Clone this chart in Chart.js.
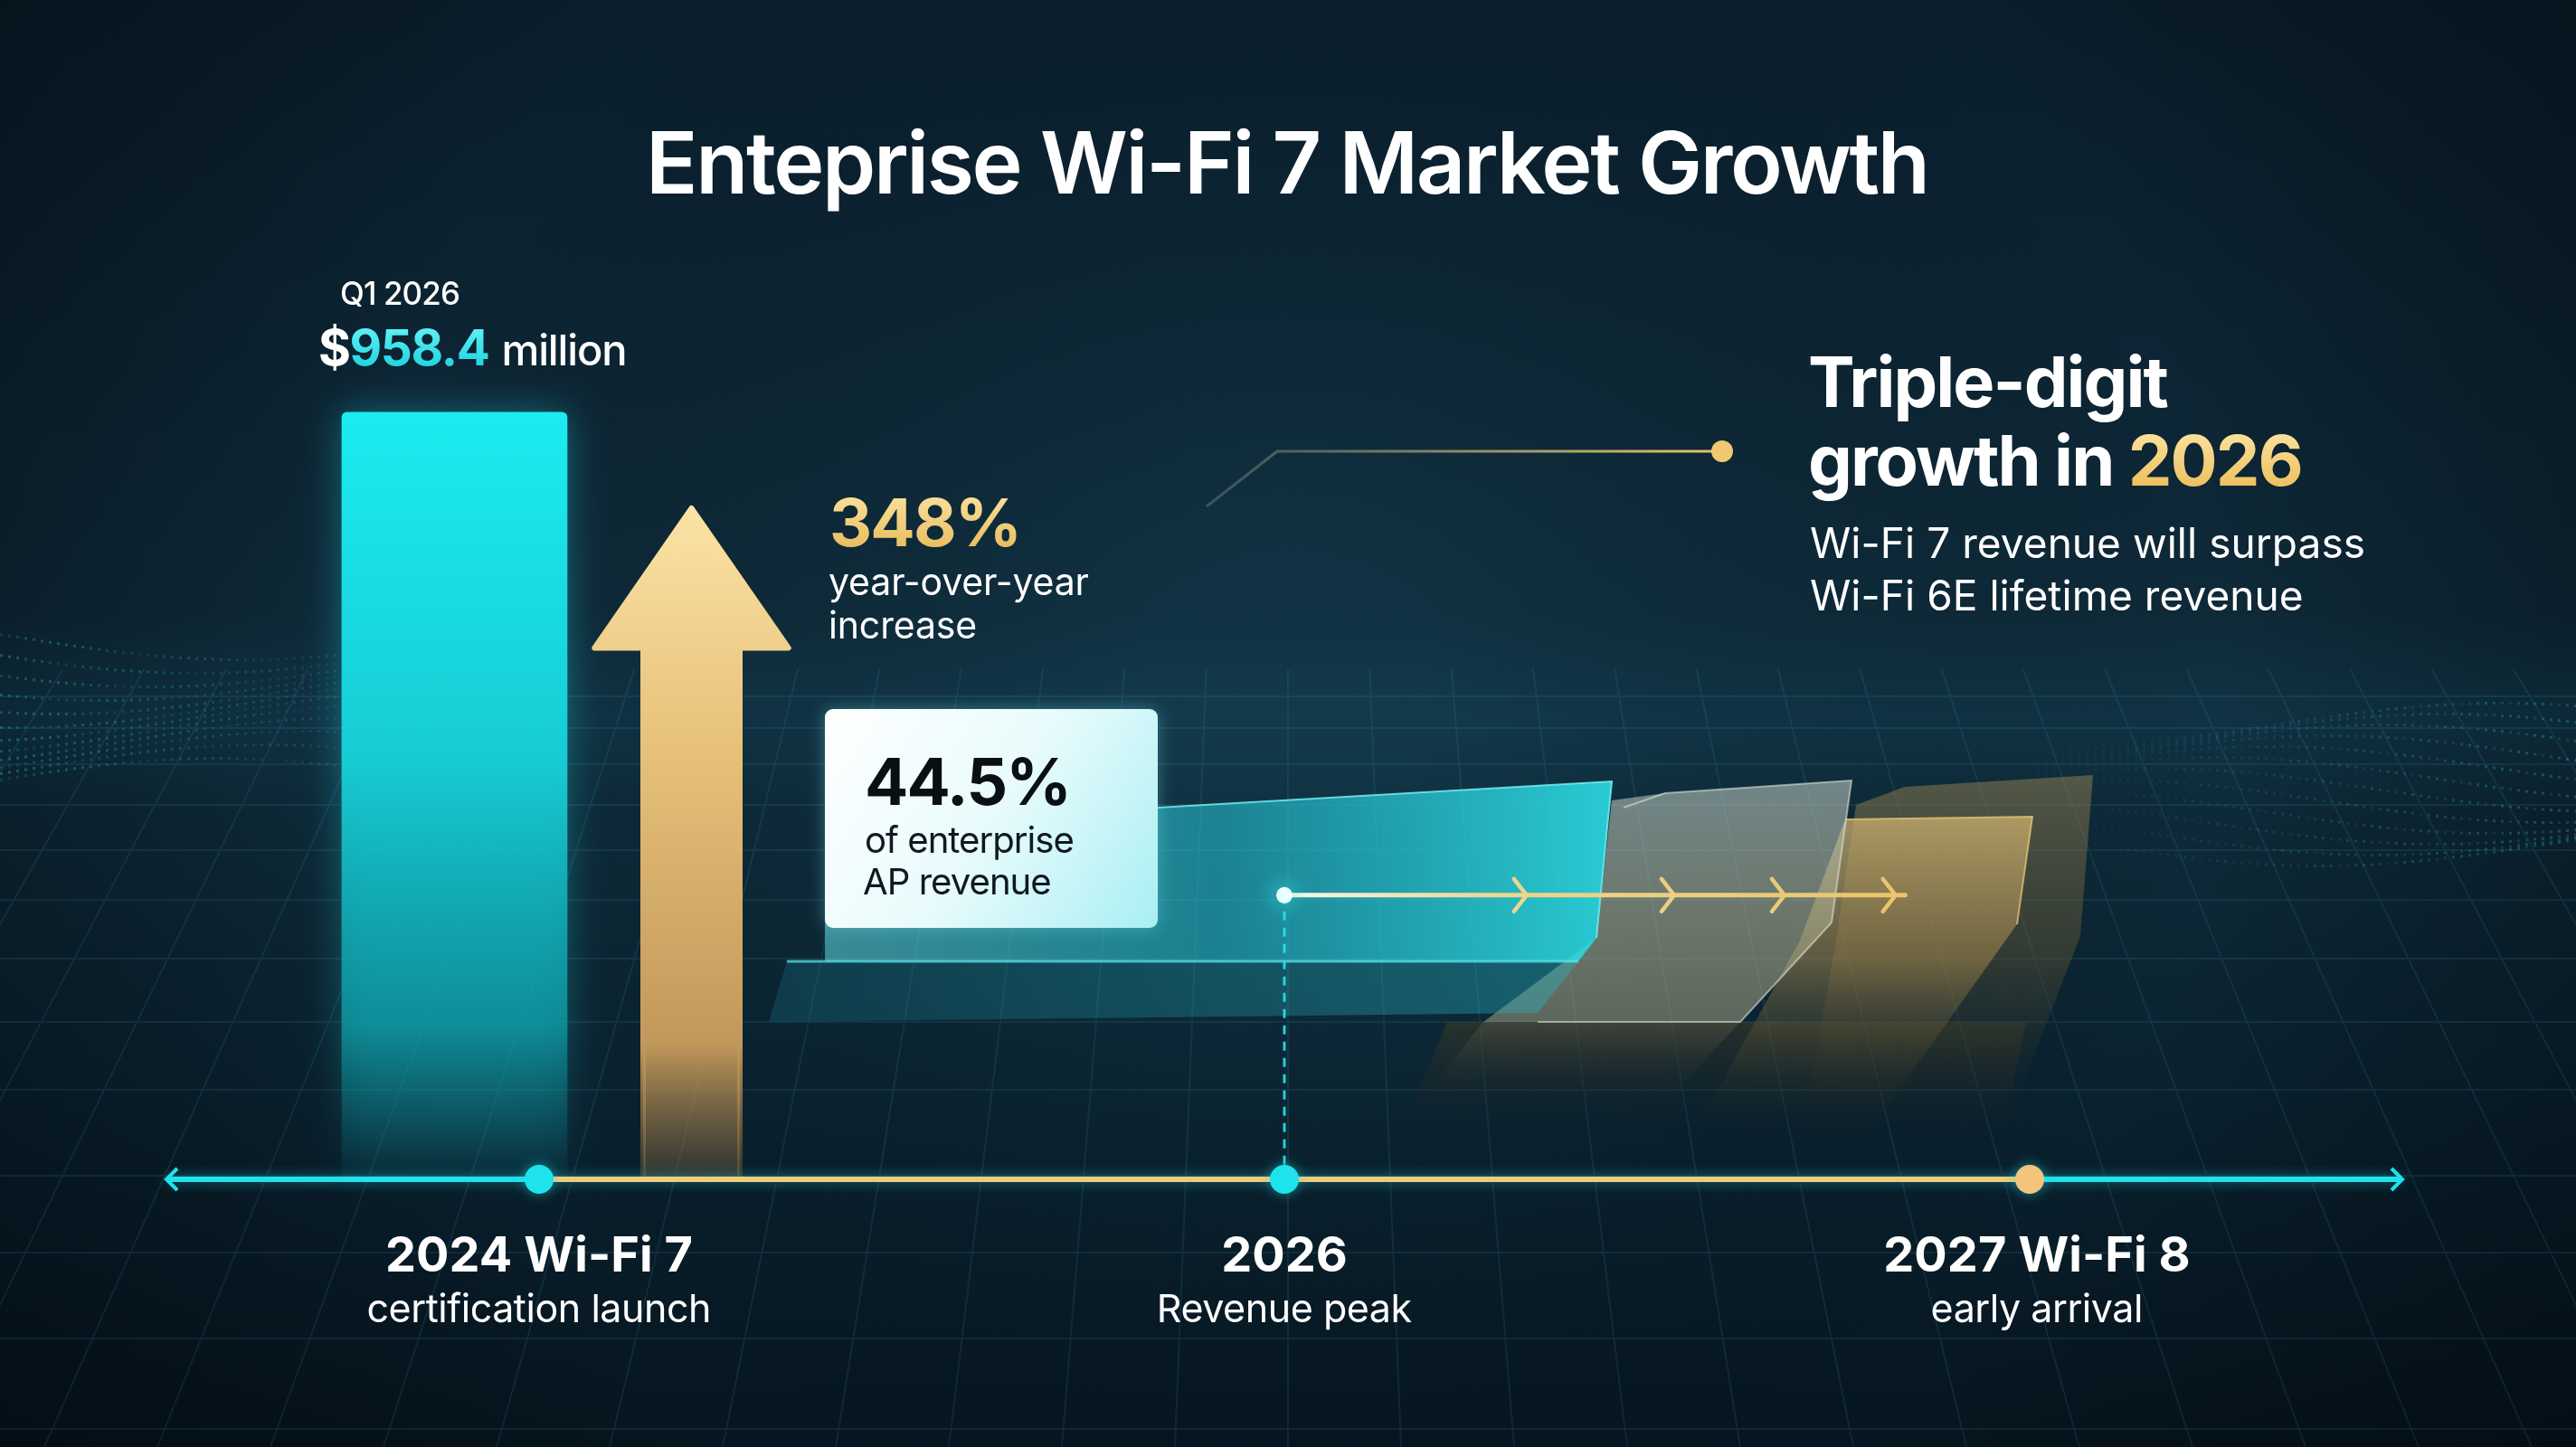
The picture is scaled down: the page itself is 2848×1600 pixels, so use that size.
<!DOCTYPE html>
<html><head><meta charset="utf-8">
<script src="https://cdn.jsdelivr.net/npm/chart.js@4.4.1/dist/chart.umd.min.js"></script>
<style>
html,body{margin:0;padding:0;background:#081a26;overflow:hidden;}
canvas{display:block;}
</style></head><body>
<canvas id="c" width="2848" height="1600"></canvas>
<script>
// ---------------- data ----------------
const chartTitle = 'Enteprise Wi-Fi 7 Market Growth';
const revenuePeriod = 'Q1 2026';
const revenueMillions = [958.4];
const yoyGrowthPct = [348];
const apSharePct = [44.5];
const milestoneIndex = [0, 1, 2];
const milestoneLabels = ['2024 Wi-Fi 7', '2026', '2027 Wi-Fi 8'];
const milestoneNotes = ['certification launch', 'Revenue peak', 'early arrival'];
const calloutHead = ['Triple-digit', 'growth in ', '2026'];
const calloutBody = ['Wi-Fi 7 revenue will surpass', 'Wi-Fi 6E lifetime revenue'];

// ---------------- layout / style ----------------
const W = 2848, H = 1600;
const FONT = "Inter, 'Noto Sans', 'DejaVu Sans', sans-serif";
const CYAN = '#1fe3ec', GOLD = '#efcb7c';
const LAYOUT = {
  revenueBarX: -0.1135, revenueBarWidth: 249,
  growthArrowX: 0.2045, growthArrowWidth: 107,
  peakLevel: 355,
  peakChevrons: [1.325, 1.523, 1.671, 1.820], peakLineEnd: 1.833
};

function natW(ctx, s, weight, size) {
  ctx.letterSpacing = '0px';
  ctx.font = `${weight} ${size}px ${FONT}`;
  return ctx.measureText(s).width;
}
function fitStyle(ctx, s, weight, maxSize, target) {
  const n = Math.max(1, s.length - 1);
  const w100 = natW(ctx, s, weight, 100) / 100;
  const size = Math.min(maxSize, target / (w100 - 0.025 * n));
  const ls = (target - w100 * size) / n;
  return {size, ls: Math.min(ls, 0.1 * size)};
}
function txt(ctx, s, x, y, weight, size, color, align, ls) {
  ctx.font = `${weight} ${size}px ${FONT}`;
  ctx.letterSpacing = (ls || 0) + 'px';
  ctx.fillStyle = color; ctx.textAlign = align || 'left'; ctx.textBaseline = 'alphabetic';
  const w = ctx.measureText(s).width;
  const dx = align === 'center' ? (ls || 0) / 2 : 0;
  ctx.fillText(s, x + dx, y);
  ctx.letterSpacing = '0px';
  return w;
}
function fitTxt(ctx, s, x, y, weight, maxSize, target, color, align) {
  const st = fitStyle(ctx, s, weight, maxSize, target);
  txt(ctx, s, x, y, weight, st.size, color, align, st.ls);
  return st;
}
function poly(ctx, pts) {
  ctx.beginPath(); ctx.moveTo(pts[0][0], pts[0][1]);
  for (let i = 1; i < pts.length; i++) ctx.lineTo(pts[i][0], pts[i][1]);
  ctx.closePath();
}

const deco = {
  id: 'deco',
  beforeDraw(chart) {
    const ctx = chart.ctx;
    ctx.save();
    const g = ctx.createLinearGradient(0, 0, 0, H);
    g.addColorStop(0, '#0a1e2c'); g.addColorStop(0.3, '#0d2635'); g.addColorStop(0.5, '#0f2c3b');
    g.addColorStop(0.75, '#0a2230'); g.addColorStop(1, '#06151f');
    ctx.fillStyle = g; ctx.fillRect(0, 0, W, H);
    const r = ctx.createRadialGradient(W / 2, 760, 150, W / 2, 760, 1750);
    r.addColorStop(0, 'rgba(25,80,100,0.22)'); r.addColorStop(0.55, 'rgba(0,0,0,0)'); r.addColorStop(1, 'rgba(0,6,12,0.5)');
    ctx.fillStyle = r; ctx.fillRect(0, 0, W, H);
    const hg = ctx.createLinearGradient(0, 680, 0, 900);
    hg.addColorStop(0, 'rgba(30,110,140,0)'); hg.addColorStop(0.5, 'rgba(30,110,140,0.10)'); hg.addColorStop(1, 'rgba(30,110,140,0)');
    ctx.fillStyle = hg; ctx.fillRect(0, 680, W, 220);
    const hz = 740, vpX = W / 2, vpY = -1500;
    ctx.beginPath(); ctx.rect(0, hz, W, H - hz); ctx.clip();
    ctx.strokeStyle = 'rgba(70,175,205,0.12)'; ctx.lineWidth = 2;
    ctx.beginPath();
    for (let i = -30; i <= 30; i++) {
      const bx = vpX + i * 125;
      const t = (hz - vpY) / (H - vpY);
      ctx.moveTo(vpX + (bx - vpX) * t, hz); ctx.lineTo(bx, H);
    }
    [770, 805, 845, 890, 940, 995, 1060, 1130, 1205, 1300, 1385, 1480, 1580].forEach(y => { ctx.moveTo(0, y); ctx.lineTo(W, y); });
    ctx.stroke();
    ctx.restore();
    ctx.save();
    for (let row = 0; row < 12; row++) {
      for (let x = 0; x < 620; x += 9) {
        const y = 700 + row * 15 + 28 * Math.sin(x / 170 + row * 0.3);
        const a = 0.34 * (1 - x / 640) * (0.45 + 0.55 * Math.abs(Math.sin(x * 0.37 + row * 1.7)));
        ctx.fillStyle = `rgba(50,195,215,${a.toFixed(3)})`; ctx.fillRect(x, y, 3, 3);
      }
      for (let x = 2180; x < W; x += 9) {
        const y = 800 + row * 12 + 24 * Math.sin(x / 160 + row * 0.4);
        const a = 0.32 * ((x - 2180) / 670) * (0.45 + 0.55 * Math.abs(Math.sin(x * 0.41 + row * 1.3)));
        ctx.fillStyle = `rgba(50,195,215,${a.toFixed(3)})`; ctx.fillRect(x, y, 3, 3);
      }
    }
    ctx.restore();
  },
  beforeDatasetsDraw(chart) {
    const ctx = chart.ctx, xs = chart.scales.x, ys = chart.scales.y;
    ctx.save();
    const vg = (y0, y1, stops) => { const g = ctx.createLinearGradient(0, y0, 0, y1); stops.forEach(s => g.addColorStop(s[0], s[1])); return g; };
    // shadow floor under the sheets
    poly(ctx, [[1600, 1130], [2240, 1130], [2212, 1265], [1545, 1265]]);
    ctx.fillStyle = vg(1130, 1265, [[0, 'rgba(70,62,38,0.5)'], [1, 'rgba(10,25,32,0)']]); ctx.fill();
    // back gold sheet
    poly(ctx, [[2052, 890], [2106, 870], [2314, 857], [2300, 1035], [2212, 1262], [1990, 1262], [2030, 1040]]);
    ctx.fillStyle = vg(857, 1262, [[0, 'rgba(140,124,80,0.55)'], [0.5, 'rgba(95,85,52,0.45)'], [1, 'rgba(12,28,36,0)']]); ctx.fill();
    // front gold sheet
    poly(ctx, [[2040, 906], [2247, 903], [2230, 1022], [2062, 1258], [1870, 1258], [1990, 1040]]);
    ctx.fillStyle = vg(903, 1258, [[0, 'rgba(205,178,112,0.75)'], [0.45, 'rgba(160,132,76,0.55)'], [1, 'rgba(20,30,30,0)']]); ctx.fill();
    ctx.strokeStyle = 'rgba(240,205,120,0.7)'; ctx.lineWidth = 2;
    ctx.beginPath(); ctx.moveTo(2040, 906); ctx.lineTo(2247, 903); ctx.lineTo(2230, 1022); ctx.stroke();
    // gray sheet
    poly(ctx, [[1782, 885], [1841, 877], [2047, 863], [2025, 1020], [1924, 1130], [1640, 1130], [1765, 1037]]);
    ctx.fillStyle = vg(863, 1130, [[0, 'rgba(175,190,185,0.62)'], [0.6, 'rgba(170,170,140,0.6)'], [1, 'rgba(160,158,128,0.55)']]); ctx.fill();
    poly(ctx, [[1640, 1130], [1924, 1130], [1830, 1230], [1560, 1230]]);
    ctx.fillStyle = vg(1130, 1230, [[0, 'rgba(90,90,70,0.45)'], [1, 'rgba(15,28,34,0)']]); ctx.fill();
    ctx.strokeStyle = 'rgba(220,225,215,0.6)';
    ctx.beginPath(); ctx.moveTo(1795, 893); ctx.lineTo(1841, 877); ctx.lineTo(2047, 863); ctx.lineTo(2025, 1020); ctx.lineTo(1924, 1130); ctx.lineTo(1700, 1130); ctx.stroke();
    // cyan sheet (front)
    poly(ctx, [[912, 900], [1280, 893], [1782, 864], [1765, 1037], [1745, 1063], [912, 1063]]);
    let hgc = ctx.createLinearGradient(912, 0, 1782, 0);
    hgc.addColorStop(0, 'rgba(90,205,215,0.6)'); hgc.addColorStop(0.5, 'rgba(35,185,200,0.6)'); hgc.addColorStop(1, 'rgba(45,220,228,0.9)');
    ctx.fillStyle = hgc; ctx.fill();
    poly(ctx, [[870, 1063], [1745, 1063], [1700, 1120], [850, 1130]]);
    hgc = ctx.createLinearGradient(850, 0, 1745, 0);
    hgc.addColorStop(0, 'rgba(25,130,150,0.25)'); hgc.addColorStop(1, 'rgba(40,180,195,0.4)');
    ctx.fillStyle = hgc; ctx.fill();
    ctx.strokeStyle = 'rgba(90,235,240,0.7)'; ctx.lineWidth = 3;
    ctx.beginPath(); ctx.moveTo(870, 1063); ctx.lineTo(1745, 1063); ctx.stroke();
    ctx.strokeStyle = 'rgba(120,245,250,0.8)'; ctx.lineWidth = 2;
    ctx.beginPath(); ctx.moveTo(1280, 893); ctx.lineTo(1782, 864); ctx.lineTo(1765, 1037); ctx.stroke();

    // 2026 revenue-peak flow
    const px = xs.getPixelForValue(milestoneIndex[1]);
    const py = ys.getPixelForValue(LAYOUT.peakLevel);
    const base = ys.getPixelForValue(0);
    ctx.setLineDash([10, 8]); ctx.strokeStyle = 'rgba(40,225,235,0.9)'; ctx.lineWidth = 3;
    ctx.beginPath(); ctx.moveTo(px, py); ctx.lineTo(px, base); ctx.stroke();
    ctx.setLineDash([]);
    const endX = xs.getPixelForValue(LAYOUT.peakLineEnd);
    const lg = ctx.createLinearGradient(px, 0, endX, 0);
    lg.addColorStop(0, '#f4f6ec'); lg.addColorStop(0.35, '#efd58e'); lg.addColorStop(1, '#e9c46c');
    ctx.strokeStyle = lg; ctx.lineWidth = 5; ctx.lineCap = 'round';
    ctx.beginPath(); ctx.moveTo(px, py); ctx.lineTo(endX, py); ctx.stroke();
    ctx.lineWidth = 4.5; ctx.lineJoin = 'round';
    LAYOUT.peakChevrons.forEach(v => {
      const cx = xs.getPixelForValue(v);
      ctx.beginPath(); ctx.moveTo(cx - 14, py - 18); ctx.lineTo(cx, py); ctx.lineTo(cx - 14, py + 18); ctx.stroke();
    });
    ctx.shadowColor = 'rgba(60,240,250,0.95)'; ctx.shadowBlur = 22;
    ctx.fillStyle = '#eaffff'; ctx.beginPath(); ctx.arc(px, py, 9, 0, Math.PI * 2); ctx.fill();
    ctx.shadowBlur = 0;

    // leader line to the callout
    const ld = ctx.createLinearGradient(1334, 0, 1904, 0);
    ld.addColorStop(0, 'rgba(140,150,140,0.35)'); ld.addColorStop(0.5, 'rgba(200,180,120,0.7)'); ld.addColorStop(1, '#e9c46c');
    ctx.strokeStyle = ld; ctx.lineWidth = 3; ctx.lineCap = 'butt';
    ctx.beginPath(); ctx.moveTo(1334, 560); ctx.lineTo(1412, 499); ctx.lineTo(1904, 499); ctx.stroke();
    ctx.fillStyle = '#f0c96e'; ctx.beginPath(); ctx.arc(1904, 499, 12, 0, Math.PI * 2); ctx.fill();
    ctx.restore();
  },
  beforeDatasetDraw(chart, args) {
    const ctx = chart.ctx;
    if (args.index === 0) {
      ctx.save(); ctx.shadowColor = 'rgba(30,230,240,0.35)'; ctx.shadowBlur = 40;
    }
    if (args.index === 1) {
      const el = args.meta.data[0];
      const x = el.x, tip = el.y, base = el.base, w = el.width;
      const hw = w * 1.03, hh = w * 1.5;
      const g = ctx.createLinearGradient(0, tip, 0, base);
      g.addColorStop(0, '#fbe3a6'); g.addColorStop(0.35, '#e8c27a'); g.addColorStop(0.8, '#c2985a'); g.addColorStop(1, 'rgba(150,115,65,0.25)');
      ctx.save();
      ctx.fillStyle = g; ctx.strokeStyle = g; ctx.lineWidth = 6; ctx.lineJoin = 'round';
      ctx.beginPath();
      ctx.moveTo(x, tip + 3); ctx.lineTo(x + hw - 3, tip + hh - 3); ctx.lineTo(x + w / 2, tip + hh - 3);
      ctx.lineTo(x + w / 2, base); ctx.lineTo(x - w / 2, base); ctx.lineTo(x - w / 2, tip + hh - 3);
      ctx.lineTo(x - hw + 3, tip + hh - 3); ctx.closePath();
      ctx.fill(); ctx.stroke();
      ctx.restore();
      return false;
    }
    if (args.index === 2) {
      ctx.save(); ctx.shadowColor = 'rgba(40,230,240,0.5)'; ctx.shadowBlur = 14;
    }
  },
  afterDatasetDraw(chart, args) {
    const ctx = chart.ctx;
    if (args.index === 0) ctx.restore();
    if (args.index === 2) {
      ctx.restore();
      const pts = args.meta.data;
      const a = pts[0], b = pts[pts.length - 1];
      ctx.save(); ctx.strokeStyle = CYAN; ctx.lineWidth = 4; ctx.lineJoin = 'miter';
      ctx.beginPath(); ctx.moveTo(a.x + 12, a.y - 12); ctx.lineTo(a.x, a.y); ctx.lineTo(a.x + 12, a.y + 12); ctx.stroke();
      ctx.beginPath(); ctx.moveTo(b.x - 12, b.y - 12); ctx.lineTo(b.x, b.y); ctx.lineTo(b.x - 12, b.y + 12); ctx.stroke();
      ctx.restore();
    }
  },
  afterDraw(chart) {
    const ctx = chart.ctx, xs = chart.scales.x, ys = chart.scales.y;
    ctx.save();
    fitTxt(ctx, chartTitle, W / 2, 214, 600, 95, 1420, '#ffffff', 'center');

    const bar = chart.getDatasetMeta(0).data[0];
    const left = bar.x - bar.width / 2;
    fitTxt(ctx, revenuePeriod, left - 2, bar.y - 119, 500, 35, 133, '#ffffff');
    const num = revenueMillions[0].toFixed(1);
    const by0 = bar.y - 52;
    let st = fitStyle(ctx, '$' + num, 700, 56, 190);
    let x = left - 26;
    x += txt(ctx, '$', x, by0, 700, st.size, '#ffffff', 'left', st.ls);
    const ng = ctx.createLinearGradient(0, by0 - 42, 0, by0);
    ng.addColorStop(0, '#5ff0f6'); ng.addColorStop(1, '#22d6e2');
    x += txt(ctx, num, x, by0, 700, st.size, ng, 'left', st.ls);
    fitTxt(ctx, 'million', x + 14, by0, 500, 53, 139, '#ffffff');

    const arr = chart.getDatasetMeta(1).data[0];
    const gx = 917, gy = arr.y + 45;
    const gg = ctx.createLinearGradient(0, gy - 62, 0, gy);
    gg.addColorStop(0, '#fbe3a0'); gg.addColorStop(1, '#e9bf62');
    fitTxt(ctx, yoyGrowthPct[0] + '%', gx, gy, 700, 82, 213, gg);
    st = fitStyle(ctx, 'year-over-year', 400, 41, 288);
    txt(ctx, 'year-over-year', gx - 1, gy + 54, 400, st.size, '#ffffff', 'left', st.ls);
    txt(ctx, 'increase', gx - 1, gy + 102, 400, st.size, '#ffffff', 'left', st.ls);

    const bx = 912, byy = 784, bw = 368, bh = 242;
    ctx.shadowColor = 'rgba(120,240,250,0.35)'; ctx.shadowBlur = 18;
    const bgr = ctx.createLinearGradient(bx, byy, bx + bw, byy + bh);
    bgr.addColorStop(0, '#ffffff'); bgr.addColorStop(0.5, '#e8fbfc'); bgr.addColorStop(1, '#a9eff4');
    ctx.fillStyle = bgr; ctx.beginPath(); ctx.roundRect(bx, byy, bw, bh, 9); ctx.fill();
    ctx.shadowBlur = 0;
    fitTxt(ctx, apSharePct[0] + '%', bx + 44, byy + 106, 700, 80, 229, '#0a0f14');
    st = fitStyle(ctx, 'of enterprise', 400, 42, 232);
    txt(ctx, 'of enterprise', bx + 44, byy + 159, 400, st.size, '#111820', 'left', st.ls);
    txt(ctx, 'AP revenue', bx + 42, byy + 205, 400, st.size, '#111820', 'left', st.ls);

    st = fitStyle(ctx, calloutHead[0], 700, 78, 399);
    txt(ctx, calloutHead[0], 1999, 450, 700, st.size, '#ffffff', 'left', st.ls);
    const cx = 1999 + txt(ctx, calloutHead[1], 1999, 537, 700, st.size, '#ffffff', 'left', st.ls);
    const cg = ctx.createLinearGradient(0, 480, 0, 540);
    cg.addColorStop(0, '#fbe09a'); cg.addColorStop(1, '#ecbf5e');
    txt(ctx, calloutHead[2], cx, 537, 700, st.size, cg, 'left', st.ls);
    st = fitStyle(ctx, calloutBody[0], 400, 46, 614);
    txt(ctx, calloutBody[0], 2001, 617, 400, st.size, '#ffffff', 'left', st.ls);
    txt(ctx, calloutBody[1], 2001, 675, 400, st.size, '#ffffff', 'left', st.ls);

    const base = ys.getPixelForValue(0);
    const s1 = fitStyle(ctx, milestoneLabels[0], 700, 54, 340);
    const s2 = fitStyle(ctx, milestoneNotes[0], 400, 43, 381);
    milestoneIndex.forEach((v, i) => {
      const mx = xs.getPixelForValue(v) + (i === 2 ? 8 : 0);
      txt(ctx, milestoneLabels[i], mx, base + 102, 700, s1.size, '#ffffff', 'center', s1.ls);
      txt(ctx, milestoneNotes[i], mx, base + 158, 400, s2.size, '#ffffff', 'center', s2.ls);
    });
    ctx.restore();
  }
};

const ctx = document.getElementById('c').getContext('2d');
const timelineData = [{x: -0.5, y: 0}].concat(milestoneIndex.map(i => ({x: i, y: 0})), [{x: 2.5, y: 0}]);
new Chart(ctx, {
  type: 'bar',
  data: {
    datasets: [
      {
        label: 'Q1 2026 Wi-Fi 7 enterprise revenue ($M)',
        type: 'bar', yAxisID: 'y', order: 3, grouped: false,
        data: revenueMillions.map(v => ({x: LAYOUT.revenueBarX, y: v})),
        barThickness: LAYOUT.revenueBarWidth,
        borderRadius: {topLeft: 6, topRight: 6, bottomLeft: 0, bottomRight: 0},
        borderSkipped: false,
        backgroundColor: (c) => {
          const ch = c.chart; if (!ch.chartArea) return CYAN;
          const top = ch.scales.y.getPixelForValue(revenueMillions[0]), bot = ch.scales.y.getPixelForValue(0);
          const g = ch.ctx.createLinearGradient(0, top, 0, bot);
          g.addColorStop(0, '#1becf1'); g.addColorStop(0.45, '#17ccd4'); g.addColorStop(0.8, 'rgba(14,160,170,0.75)'); g.addColorStop(1, 'rgba(10,110,125,0.08)');
          return g;
        }
      },
      {
        label: 'Year-over-year increase (%)',
        type: 'bar', yAxisID: 'y2', order: 2, grouped: false,
        data: yoyGrowthPct.map(v => ({x: LAYOUT.growthArrowX, y: v})),
        barThickness: LAYOUT.growthArrowWidth,
        backgroundColor: 'rgba(0,0,0,0)'
      },
      {
        label: 'Timeline',
        type: 'line', yAxisID: 'y', order: 1, clip: false,
        data: timelineData,
        borderWidth: 6,
        segment: {
          borderColor: c => (c.p0DataIndex === 0 || c.p1DataIndex === timelineData.length - 1) ? CYAN : GOLD
        },
        pointRadius: c => (c.dataIndex === 0 || c.dataIndex === timelineData.length - 1) ? 0 : 16,
        pointBackgroundColor: c => c.dataIndex === 3 ? '#f3c47c' : CYAN,
        pointBorderWidth: 0,
        tension: 0
      }
    ]
  },
  options: {
    responsive: false, devicePixelRatio: 1, animation: false,
    layout: {padding: {left: 184, right: 192, top: 242, bottom: 296}},
    scales: {
      x: {type: 'linear', min: -0.5, max: 2.5, offset: false, display: false},
      y: {type: 'linear', min: 0, max: 1200, display: false},
      y2: {type: 'linear', min: 0, max: 496, display: false}
    },
    plugins: {legend: {display: false}, tooltip: {enabled: false}, title: {display: false}}
  },
  plugins: [deco]
});
</script>
</body></html>
